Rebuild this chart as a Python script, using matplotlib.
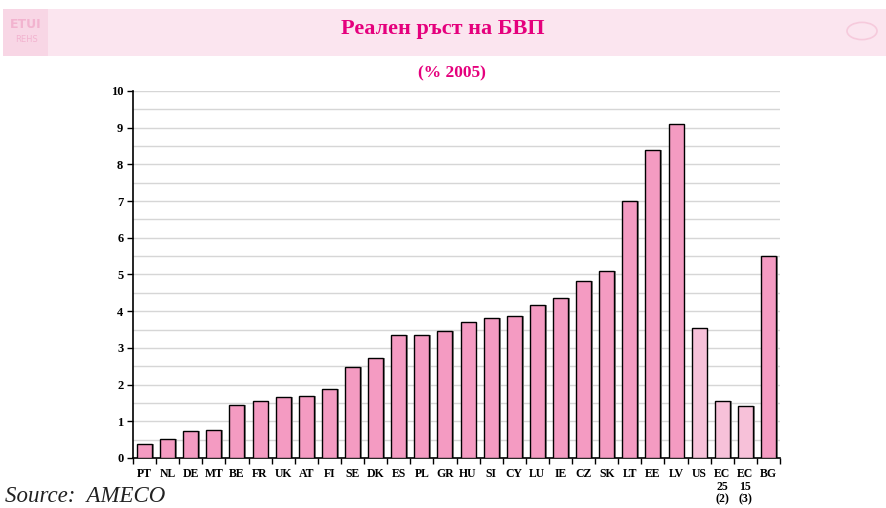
import matplotlib
matplotlib.use("Agg")
import matplotlib.pyplot as plt
from matplotlib.patches import Rectangle, Circle
import numpy as np

categories = ["PT", "NL", "DE", "MT", "BE", "FR", "UK", "AT", "FI", "SE", "DK", "ES",
              "PL", "GR", "HU", "SI", "CY", "LU", "IE", "CZ", "SK", "LT", "EE", "LV",
              "US", "EC\n25\n(2)", "EC\n15\n(3)", "BG"]
values = [0.37, 0.52, 0.74, 0.77, 1.45, 1.55, 1.65, 1.70, 1.87, 2.48, 2.72, 3.35,
          3.35, 3.47, 3.70, 3.82, 3.87, 4.17, 4.37, 4.82, 5.10, 7.00, 8.38, 9.10,
          3.53, 1.55, 1.43, 5.50]
light = {"US", "EC\n25\n(2)", "EC\n15\n(3)"}
yticks = list(range(0, 11))

serif = ["Liberation Serif", "DejaVu Serif"]
magenta = "#e5007d"

fig = plt.figure(figsize=(8.86, 5.08), dpi=100)

# header banner
fig.patches.append(Rectangle((3/886, 1 - 56/508), 883/886, 47/508, transform=fig.transFigure,
                             facecolor="#fbe5ef", edgecolor="none", zorder=0))
fig.patches.append(Rectangle((3/886, 1 - 56/508), 45/886, 47/508, transform=fig.transFigure,
                             facecolor="#f8d6e5", edgecolor="none", zorder=0))
fig.text(26/886, 1 - 24/508, "ETUI", ha="center", va="center", fontsize=9, color="#f2b3cf",
         family=["DejaVu Sans"], fontweight="bold")
fig.text(26/886, 1 - 40/508, "REHS", ha="center", va="center", fontsize=6, color="#f2b3cf",
         family=["DejaVu Sans"])
fig.patches.append(Circle((862/886, 1 - 31/508), 15/886, transform=fig.transFigure,
                          facecolor="none", edgecolor="#f6cadc", linewidth=1.2, zorder=1))
fig.text(443/886, 1 - 29/508, "Реален ръст на БВП", ha="center", va="center", fontsize=16,
         color=magenta, family=serif, fontweight="bold")
fig.text(452/886, 1 - 73/508, "(% 2005)", ha="center", va="center", fontsize=12.5,
         color=magenta, family=serif, fontweight="bold")

ax = fig.add_axes([133/886, 50/508, 647/886, 367/508])
x = np.arange(len(categories))
colors = ["#f7c1d9" if c in light else "#f49bc2" for c in categories]
# shadow
ax.bar(x + 0.08, values, width=0.65, color="#8a8a8a", edgecolor="none", zorder=2)
ax.bar(x, values, width=0.65, color=colors, edgecolor="black", linewidth=1.0, zorder=3)

ax.set_xlim(-0.5, len(categories) - 0.5)
ax.set_ylim(0, 10)
for v in np.arange(0.5, 10.01, 0.5):
    ax.axhline(v, color="#d6d6d6", linewidth=1.0, zorder=1)

ax.set_yticks(yticks)
ax.set_yticklabels([str(t) for t in yticks], fontsize=9, family=serif, fontweight="bold")
ax.set_xticks(x)
ax.set_xticklabels(categories, fontsize=8.5, family=serif, fontweight="bold",
                   linespacing=1.1, va="top")
ax.tick_params(axis="x", length=0, pad=7)
ax.set_xticks(np.arange(-0.5, len(categories), 1.0), minor=True)
ax.tick_params(axis="x", which="minor", length=4, width=1, color="black")
ax.tick_params(axis="y", length=4, width=1, color="black", pad=3)

for s in ["top", "right"]:
    ax.spines[s].set_visible(False)
ax.spines["left"].set_linewidth(1.2)
ax.spines["bottom"].set_linewidth(1.2)

fig.text(5/886, 1 - 497/508, "Source:  AMECO", ha="left", va="center", fontsize=16.5,
         style="italic", family=serif, color="#222222")

fig.savefig("out.png", dpi=100, facecolor="white")
